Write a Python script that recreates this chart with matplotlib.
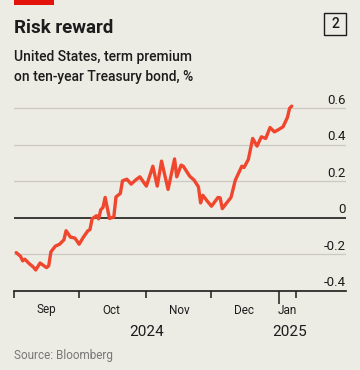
import matplotlib
matplotlib.use("Agg")
import matplotlib.pyplot as plt
import matplotlib.dates as mdates
from matplotlib.patches import Rectangle
import pandas as pd

plt.rcParams['font.family'] = ['Roboto', 'DejaVu Sans']

# ---- data ----
dates = [
    "2024-09-02", "2024-09-04", "2024-09-05", "2024-09-06", "2024-09-08", "2024-09-10",
    "2024-09-11", "2024-09-13", "2024-09-14", "2024-09-16", "2024-09-17", "2024-09-18",
    "2024-09-20", "2024-09-22", "2024-09-24", "2024-09-25", "2024-09-27", "2024-09-29",
    "2024-09-30", "2024-10-01", "2024-10-03", "2024-10-05", "2024-10-06", "2024-10-07",
    "2024-10-09", "2024-10-10", "2024-10-11", "2024-10-12", "2024-10-13", "2024-10-15",
    "2024-10-17", "2024-10-18", "2024-10-20", "2024-10-21", "2024-10-23", "2024-10-25",
    "2024-10-27", "2024-10-29", "2024-11-01", "2024-11-04", "2024-11-06", "2024-11-08",
    "2024-11-11", "2024-11-14", "2024-11-15", "2024-11-17", "2024-11-18", "2024-11-21",
    "2024-11-23", "2024-11-25", "2024-11-26", "2024-11-27", "2024-11-29", "2024-12-01",
    "2024-12-04", "2024-12-05", "2024-12-06", "2024-12-08", "2024-12-10", "2024-12-12",
    "2024-12-15", "2024-12-16", "2024-12-18", "2024-12-20", "2024-12-22", "2024-12-24",
    "2024-12-26", "2024-12-28", "2024-12-30", "2025-01-01", "2025-01-03", "2025-01-05",
    "2025-01-06", "2025-01-07",
]
term_premium = [
    -0.19, -0.21, -0.235, -0.226, -0.25, -0.27,
    -0.285, -0.247, -0.255, -0.272, -0.262, -0.186,
    -0.155, -0.144, -0.12, -0.07, -0.105, -0.11,
    -0.126, -0.144, -0.105, -0.071, -0.064, -0.005,
    0.012, -0.005, 0.045, 0.057, 0.112, -0.003,
    0.005, 0.115, 0.134, 0.203, 0.212, 0.185,
    0.207, 0.225, 0.174, 0.283, 0.174, 0.311,
    0.156, 0.323, 0.225, 0.289, 0.283, 0.228,
    0.207, 0.17, 0.082, 0.124, 0.093, 0.064,
    0.112, 0.11, 0.051, 0.082, 0.112, 0.207,
    0.283, 0.276, 0.32, 0.435, 0.393, 0.444,
    0.435, 0.495, 0.471, 0.484, 0.499, 0.55,
    0.6, 0.612,
]
y_ticks = [0.6, 0.4, 0.2, 0, -0.2, -0.4]
y_tick_labels = ["0.6", "0.4", "0.2", "0", "-0.2", "-0.4"]
month_ticks = ["2024-09-01", "2024-10-01", "2024-11-01", "2024-12-01", "2025-01-09"]
year_tick = "2025-01-01"
month_labels = ["Sep", "Oct", "Nov", "Dec", "Jan"]
month_label_pos = ["2024-09-16", "2024-10-16", "2024-11-16", "2024-12-16", "2025-01-05"]
year_labels = ["2024", "2025"]
year_label_pos = ["2024-11-01", "2025-01-06"]

# ---- style ----
BG = "#ECEBE4"
RED = "#F0462D"
DARK = "#1c1c1c"
GRID = "#CBC9C0"

W, H = 360, 370
fig = plt.figure(figsize=(W / 100, H / 100), dpi=100, facecolor=BG)

def fx(px):
    return px / W

def fy(py):
    return 1 - py / H

# red tag
fig.patches.append(Rectangle((fx(14), fy(5)), fx(40), 5 / H, transform=fig.transFigure,
                             facecolor="#E3120B", edgecolor="none"))
fig.text(fx(14), fy(33.3), "Risk reward", fontsize=13.5, fontweight="bold",
         color=DARK, va="baseline", ha="left")
fig.text(fx(14), fy(61), "United States, term premium", fontsize=10, fontweight="medium",
         color=DARK, va="baseline", ha="left")
fig.text(fx(14), fy(80.5), "on ten-year Treasury bond, %", fontsize=10, fontweight="medium",
         color=DARK, va="baseline", ha="left")
# chart number box
fig.patches.append(Rectangle((fx(324), fy(35)), fx(22), 22 / H, transform=fig.transFigure,
                             facecolor="none", edgecolor=DARK, linewidth=1.0))
fig.text(fx(335), fy(24), "2", fontsize=10, fontweight="medium", color=DARK,
         va="center", ha="center")

fig.text(fx(14), fy(359), "Source: Bloomberg", fontsize=8.5, color="#777777",
         va="baseline", ha="left")

# ---- axes ----
top_px, bot_px = 100, 291
ax = fig.add_axes([fx(14), fy(bot_px), fx(332), (bot_px - top_px) / H])
ax.set_facecolor(BG)
x = pd.to_datetime(dates)
ax.set_xlim(pd.Timestamp("2024-09-01"), pd.Timestamp("2025-02-01"))
px_per_unit = (291 - 108.3) / 1.0
ax.set_ylim(-0.4, 0.6 + (108.3 - top_px) / px_per_unit)

for s in ["top", "left", "right"]:
    ax.spines[s].set_visible(False)
ax.spines["bottom"].set_color(DARK)
ax.spines["bottom"].set_linewidth(1.2)

for v in y_ticks:
    if v == -0.4:
        continue
    if v == 0:
        ax.axhline(v, color=DARK, lw=1.2, zorder=1)
    else:
        ax.axhline(v, color=GRID, lw=0.9, zorder=1)

ax.plot(x, term_premium, color=RED, lw=2.4, solid_joinstyle="round",
        solid_capstyle="round", zorder=3, clip_on=False)

ax.set_yticks([])
ax.set_xticks(pd.to_datetime([year_tick]))
ax.set_xticks(pd.to_datetime(month_ticks), minor=True)
ax.tick_params(axis="x", which="major", length=9, width=1.1, color=DARK, labelbottom=False)
ax.tick_params(axis="x", which="minor", length=5, width=1.1, color=DARK, labelbottom=False)

for v, lab in zip(y_ticks, y_tick_labels):
    ax.annotate(lab, xy=(1, v), xycoords=("axes fraction", "data"), xytext=(0, 4.5),
                textcoords="offset pixels", ha="right", va="baseline",
                fontsize=9.5, color=DARK)

for d, lab in zip(month_label_pos, month_labels):
    ax.annotate(lab, xy=(pd.Timestamp(d), 0), xycoords=("data", "axes fraction"),
                xytext=(0, -19), textcoords="offset pixels", ha="center", va="center",
                fontsize=8.5, color=DARK)
for d, lab in zip(year_label_pos, year_labels):
    ax.annotate(lab, xy=(pd.Timestamp(d), 0), xycoords=("data", "axes fraction"),
                xytext=(0, -41), textcoords="offset pixels", ha="center", va="center",
                fontsize=11, color=DARK)

fig.savefig("out.png", dpi=100, facecolor=BG)
